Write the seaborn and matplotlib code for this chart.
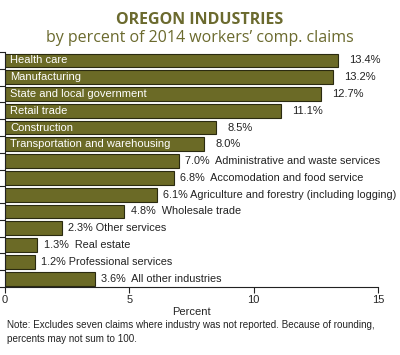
import matplotlib
matplotlib.use("Agg")
import matplotlib.pyplot as plt
import seaborn as sns
import pandas as pd
import numpy as np

industries = ["Health care", "Manufacturing", "State and local government", "Retail trade",
              "Construction", "Transportation and warehousing",
              "Administrative and waste services", "Accomodation and food service",
              "Agriculture and forestry (including logging)", "Wholesale trade",
              "Other services", "Real estate", "Professional services", "All other industries"]
percents = [13.4, 13.2, 12.7, 11.1, 8.5, 8.0, 7.0, 6.8, 6.1, 4.8, 2.3, 1.3, 1.2, 3.6]
inside_label = [True, True, True, True, True, True, False, False, False, False, False, False, False, False]
label_gap = ["", "", "", "", "", "", "  ", "  ", " ", "  ", " ", "  ", " ", "  "]
x_ticks = [0, 5, 10, 15]

df = pd.DataFrame({"industry": industries, "percent": percents})

sns.set_style("ticks")
plt.rcParams["font.family"] = ["Liberation Sans", "DejaVu Sans"]

fig = plt.figure(figsize=(4.0, 3.55), dpi=100)
ax = fig.add_axes([0.0125, 0.1915, 0.9325, 0.662])

olive = "#6b6a26"
sns.barplot(data=df, x="percent", y="industry", orient="h", color=olive,
            edgecolor="#2a2a10", linewidth=0.8, width=0.82, saturation=1, ax=ax)

for i, (name, v, inside, gap) in enumerate(zip(industries, percents, inside_label, label_gap)):
    if inside:
        ax.text(0.2, i, name, color="white", fontsize=8, va="center", ha="left")
        ax.text(v + 0.45, i, f"{v:.1f}%", color="#222222", fontsize=8, va="center", ha="left")
    else:
        ax.text(v + 0.25, i, f"{v:.1f}%{gap}{name}", color="#222222", fontsize=7.8,
                va="center", ha="left")

ax.set_xlim(0, 15)
ax.set_ylim(len(industries) - 0.5, -0.5)
ax.set_xticks(x_ticks)
ax.set_xticklabels([str(t) for t in x_ticks], fontsize=8)
ax.set_yticks(np.arange(len(industries) + 1) - 0.5)
ax.set_yticklabels([])
ax.tick_params(axis="y", length=4, width=0.8, color="#222222")
ax.tick_params(axis="x", length=4, width=0.8, color="#222222", pad=2)
ax.set_ylabel("")
ax.set_xlabel("Percent", fontsize=8, labelpad=1)
for s in ["top", "right"]:
    ax.spines[s].set_visible(False)
for s in ["left", "bottom"]:
    ax.spines[s].set_linewidth(0.8)
    ax.spines[s].set_color("#222222")

title_color = "#6b6a2e"
fig.text(0.5, 0.945, "OREGON INDUSTRIES", ha="center", va="center", fontsize=11.5,
         fontweight="bold", color=title_color, family=["Open Sans", "DejaVu Sans"])
fig.text(0.5, 0.893, "by percent of 2014 workers\u2019 comp. claims", ha="center", va="center",
         fontsize=11.5, color=title_color, family=["Open Sans", "DejaVu Sans"])

fig.text(0.018, 0.066, "Note: Excludes seven claims where industry was not reported. Because of rounding,\npercents may not sum to 100.",
         ha="left", va="center", fontsize=7.1, color="#222222", linespacing=1.5)

fig.savefig("out.png", dpi=100)
